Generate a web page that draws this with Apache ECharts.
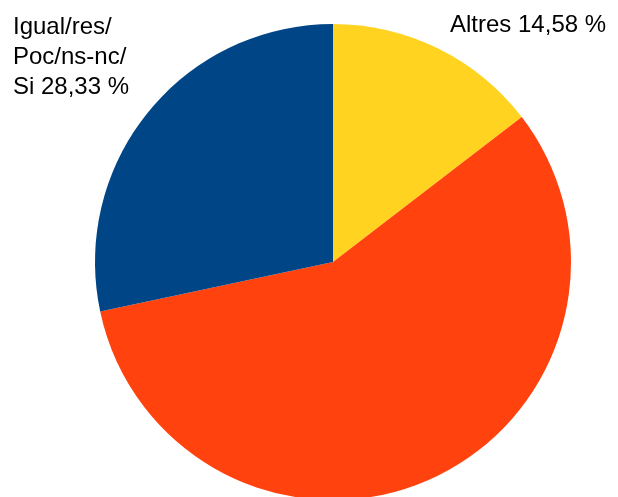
<!DOCTYPE html>
<html>
<head>
<meta charset="utf-8">
<script src="https://cdn.jsdelivr.net/npm/echarts@6/dist/echarts.min.js"></script>
<style>html,body{margin:0;padding:0;background:#fff}#c{width:618px;height:497px}</style>
</head>
<body>
<div id="c"></div>
<script>
var categories = ['Altres', 'No', 'Igual/res/\nPoc/ns-nc/\nSi'];
var values = [14.58, 57.09, 28.33];
var colors = ['#FFD320', '#FF420E', '#004586'];
var showLabel = [true, false, true];

var chart = echarts.init(document.getElementById('c'), null, {renderer: 'canvas'});
chart.setOption({
  animation: false,
  series: [{
    type: 'pie',
    center: [333, 262],
    radius: 238,
    startAngle: 90,
    clockwise: true,
    avoidLabelOverlap: false,
    label: {
      show: true,
      color: '#000',
      fontFamily: 'Liberation Sans',
      fontSize: 24,
      lineHeight: 30,
      formatter: function (p) {
        return p.name + ' ' + p.value.toFixed(2).replace('.', ',') + ' %';
      }
    },
    labelLine: { show: false },
    labelLayout: function (p) {
      if (p.dataIndex === 0) return { x: 450, y: 25, align: 'left', verticalAlign: 'middle' };
      if (p.dataIndex === 2) return { x: 13, y: 57, align: 'left', verticalAlign: 'middle' };
      return {};
    },
    itemStyle: { borderWidth: 0 },
    emphasis: { disabled: true },
    data: categories.map(function (c, i) {
      return { name: c, value: values[i], itemStyle: { color: colors[i] }, label: { show: showLabel[i] } };
    })
  }]
});
</script>
</body>
</html>
